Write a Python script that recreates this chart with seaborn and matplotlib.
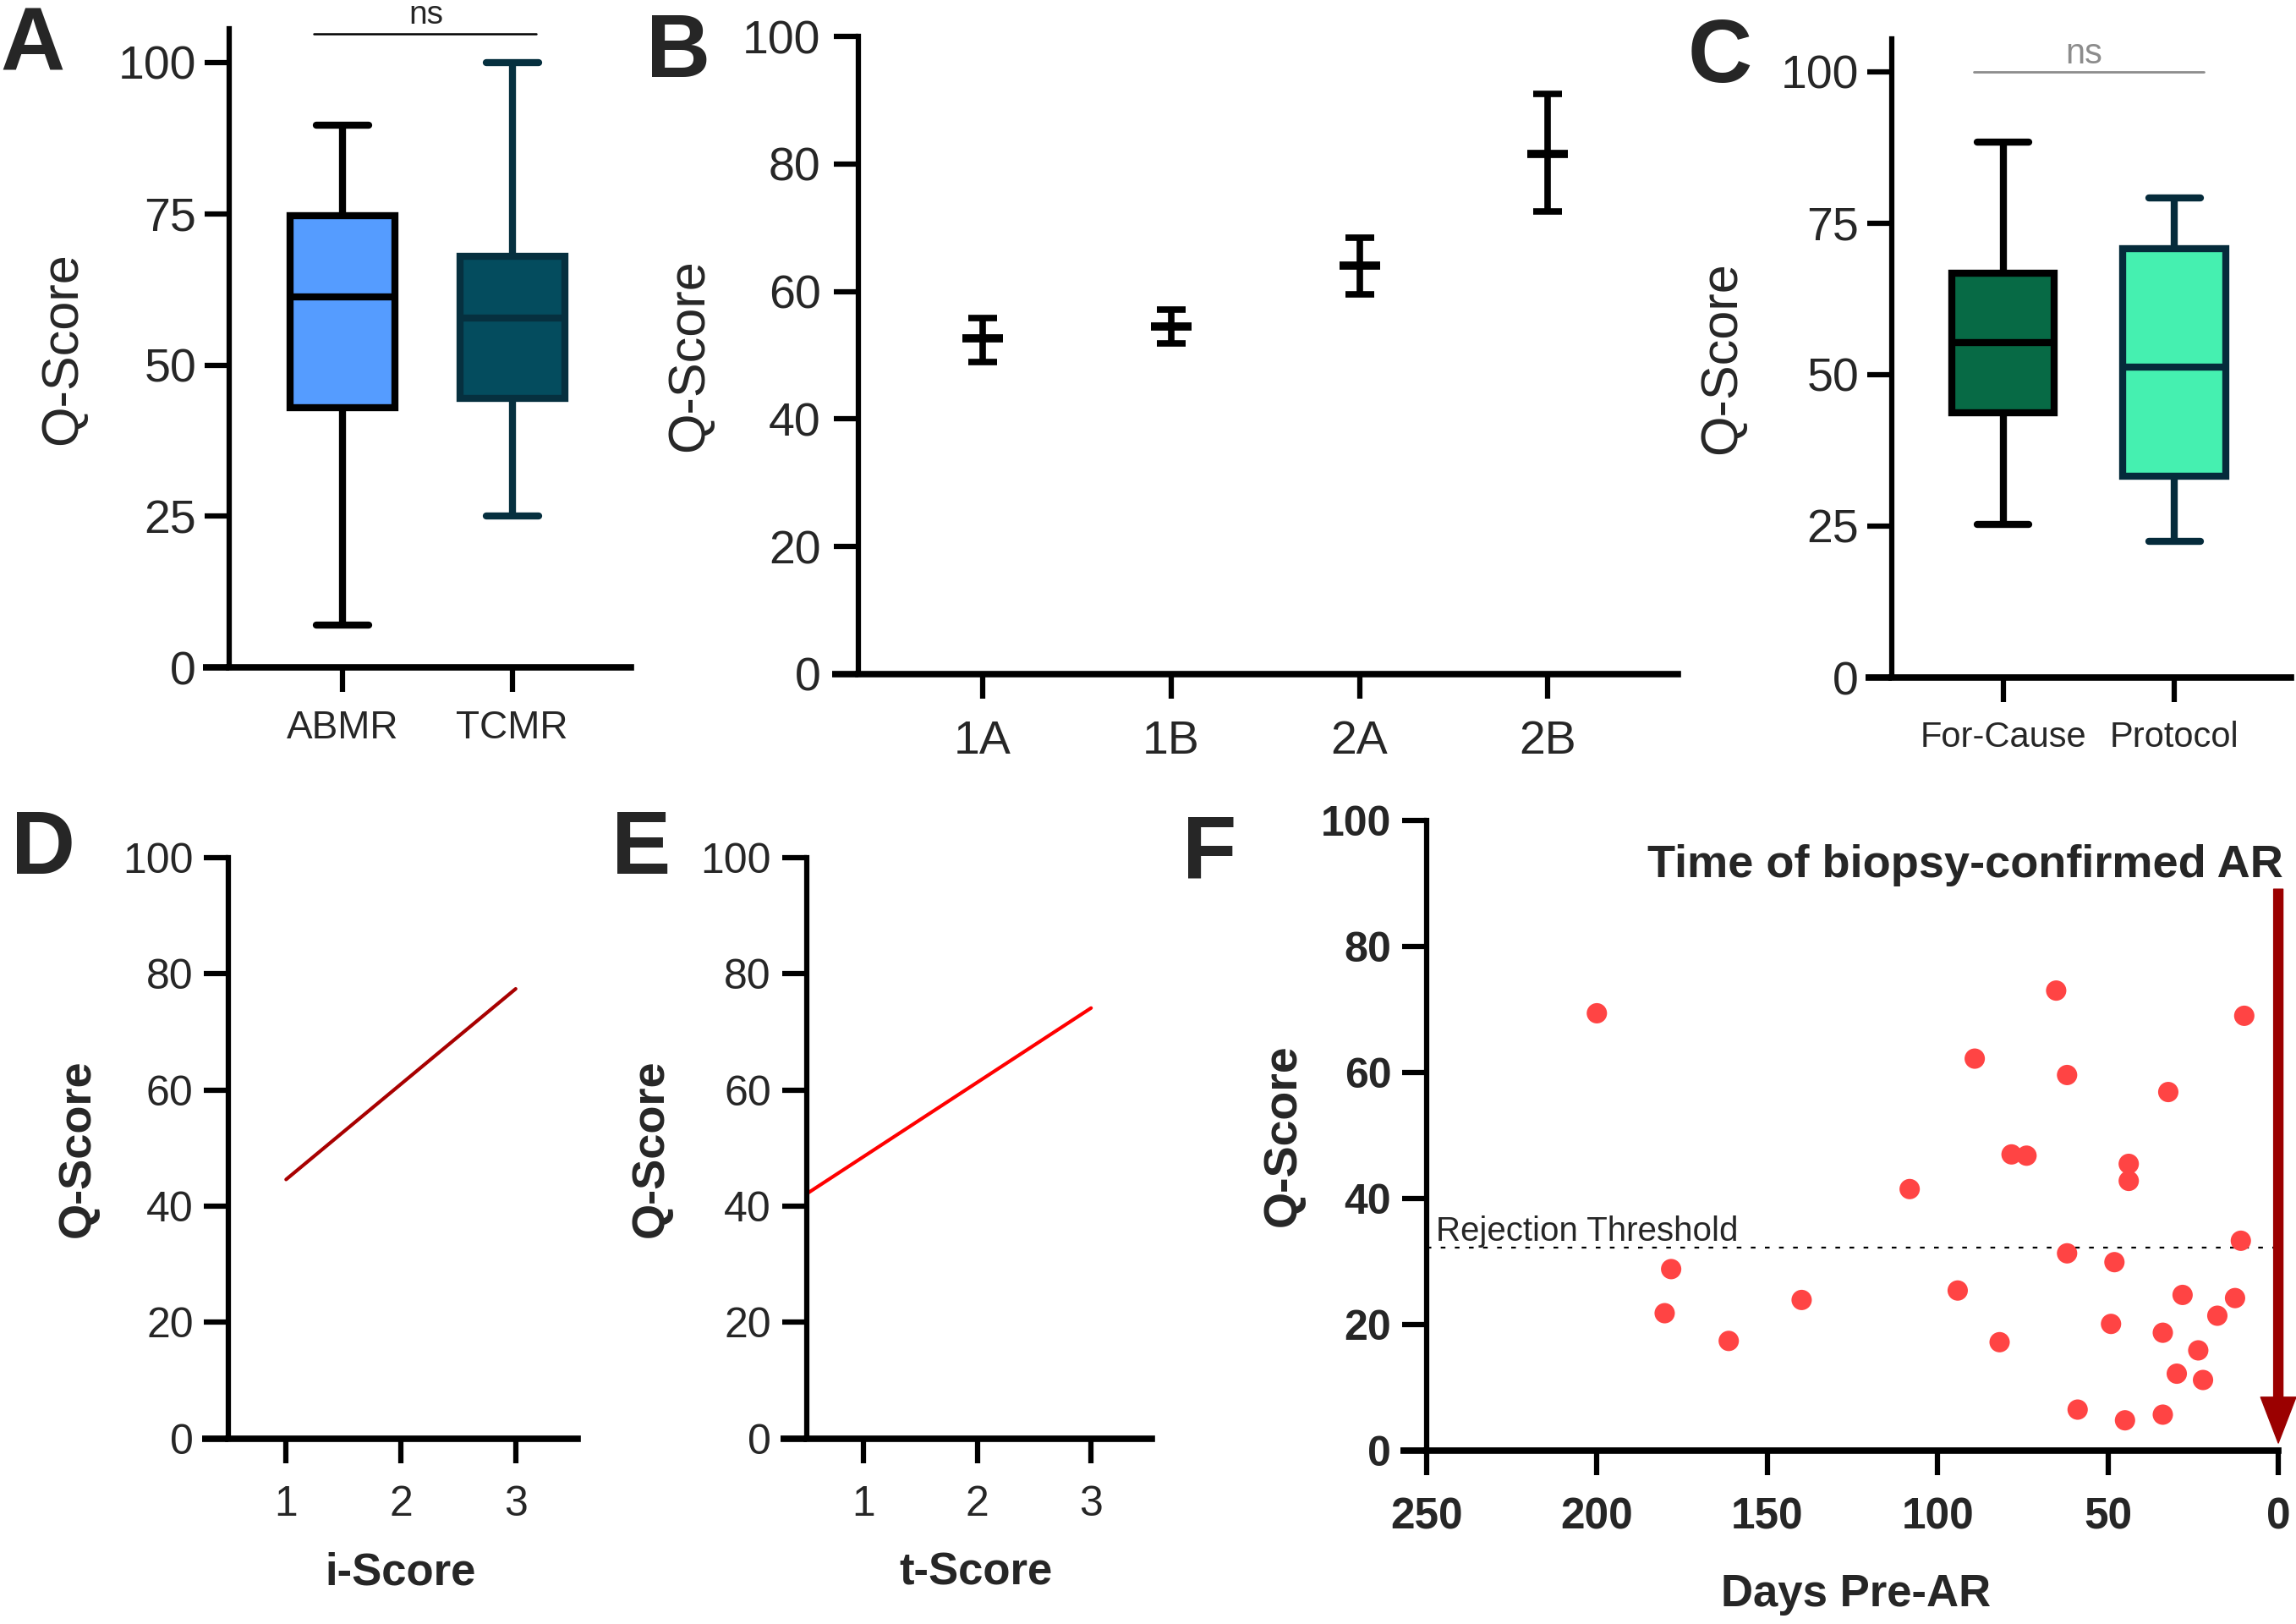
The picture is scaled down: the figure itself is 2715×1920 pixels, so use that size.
import numpy as np
import pandas as pd
import matplotlib
matplotlib.use("Agg")
import matplotlib.pyplot as plt
import seaborn as sns
from matplotlib.lines import Line2D

# ---------------- data ----------------
# Panel A (five-number summaries: min, Q1, median, Q3, max)
a_groups = ["ABMR", "TCMR"]
a_abmr = [7.0, 43.0, 61.2, 74.6, 89.6]
a_tcmr = [25.1, 44.5, 57.7, 67.9, 100.0]
a_fills = ["#559CFF", "#044C5E"]
a_edges = ["#000000", "#06303F"]

# Panel B (mean with error range)
b_grades = ["1A", "1B", "2A", "2B"]
b_mean = [52.6, 54.5, 64.0, 81.6]
b_low = [49.0, 51.8, 59.5, 72.6]
b_high = [55.8, 57.1, 68.5, 91.0]

# Panel C
c_groups = ["For-Cause", "Protocol"]
c_forcause = [25.3, 43.7, 55.3, 66.8, 88.4]
c_protocol = [22.5, 33.3, 51.2, 70.8, 79.2]
c_fills = ["#076A45", "#45F0B0"]
c_edges = ["#000000", "#052B3B"]

# Panel D / E (regression lines)
d_x = [1, 3]
d_y = [44.6, 77.4]
e_x = [0.5, 3]
e_y = [42.1, 74.1]

# Panel F
f_days = [200.0, 178.2, 180.1, 161.3, 139.9, 108.2, 94.1, 89.1, 81.8, 78.3, 73.9,
          65.2, 62.0, 62.0, 58.9, 49.1, 48.1, 45.0, 43.9, 43.9, 33.9, 33.9, 32.3,
          29.8, 28.1, 23.5, 22.1, 17.9, 12.7, 11.0, 10.0]
f_q = [69.4, 28.8, 21.8, 17.4, 23.9, 41.5, 25.4, 62.2, 17.2, 47.0, 46.8,
       73.0, 59.6, 31.3, 6.5, 20.1, 29.9, 4.8, 45.5, 42.8, 5.7, 18.7, 56.9,
       12.2, 24.7, 15.9, 11.2, 21.4, 24.2, 33.3, 69.0]
f_threshold = 32.2
f_xticks = [250, 200, 150, 100, 50, 0]

# ---------------- style ----------------
sns.set_theme(style="ticks")
plt.rcParams["font.family"] = ["Liberation Sans", "DejaVu Sans"]
plt.rcParams["axes.linewidth"] = 4.5

FIG_W, FIG_H = 2715, 1920
fig = plt.figure(figsize=(FIG_W / 100, FIG_H / 100), dpi=100)

YSP, XSP, TW, TL = 4.5, 5.5, 4.5, 21


def style_axes(ax, rect, xpad, ypad, xsize, ysize, xweight="normal", yweight="normal"):
    sns.despine(ax=ax)
    ax.spines["left"].set_linewidth(YSP)
    ax.spines["bottom"].set_linewidth(XSP)
    ax.spines["left"].set_color("black")
    ax.spines["bottom"].set_color("black")
    ax.tick_params(axis="both", direction="out", length=TL, width=TW, color="black")
    ax.tick_params(axis="x", pad=xpad, labelsize=xsize)
    ax.tick_params(axis="y", pad=ypad, labelsize=ysize)
    for t in ax.get_xticklabels():
        t.set_fontweight(xweight)
    for t in ax.get_yticklabels():
        t.set_fontweight(yweight)
    # x axis line extends left under the y ticks
    w_px = rect[2] * FIG_W
    frac = 31 / w_px
    ax.add_line(Line2D([-frac, 0], [0, 0], transform=ax.transAxes, color="black",
                       lw=XSP, clip_on=False, solid_capstyle="butt"))
    ax.grid(False)
    ax.set_facecolor("white")


def boxes(ax, groups, series, fills, edges, width):
    df = pd.DataFrame({
        "group": np.repeat(groups, [len(s) for s in series]),
        "q": np.concatenate(series),
    })
    for g, fc, ec in zip(groups, fills, edges):
        sub = df[df["group"] == g]
        kw = dict(data=sub, x="group", y="q", order=groups, ax=ax, color=fc,
                  linecolor=ec, linewidth=6, width=width, whis=(0, 100),
                  saturation=1, showfliers=False)
        try:
            sns.boxplot(**kw, capwidths=width * 0.5)
        except Exception:
            sns.boxplot(**kw)


# ---------------- Panel A ----------------
rA = [0.0998, 0.5889, 0.1750, 0.3932]
axA = fig.add_axes(rA)
boxes(axA, a_groups, [a_abmr, a_tcmr], a_fills, a_edges, 0.62)
axA.set_xlim(-0.67, 1.70)
axA.set_ylim(0, 105.5)
axA.set_yticks([0, 25, 50, 75, 100])
axA.set_xticks([0, 1])
axA.set_xticklabels(a_groups)
axA.set_xlabel("")
axA.set_ylabel("Q-Score", fontsize=44, va="center")
axA.yaxis.set_label_coords(-0.4126, 0.5)
style_axes(axA, rA, 15, 7, 33, 40)
axA.plot([-0.17, 1.14], [104.7, 104.7], color="black", lw=1.8, clip_on=False)
axA.text(0.49, 106.4, "ns", ha="center", va="baseline", fontsize=28, clip_on=False)

# ---------------- Panel B ----------------
rB = [0.3738, 0.5849, 0.3570, 0.3927]
axB = fig.add_axes(rB)
bx = np.arange(len(b_grades))
bm = np.array(b_mean)
yerr = [bm - np.array(b_low), np.array(b_high) - bm]
axB.errorbar(bx, bm, yerr=yerr, fmt="none", ecolor="black", elinewidth=5.5,
             capsize=12.5, capthick=5.5)
sns.scatterplot(x=bx, y=bm, marker="_", s=35 ** 2, color="black", linewidth=7,
                ax=axB, zorder=3)
axB.set_xlim(-0.66, 3.69)
axB.set_ylim(0, 100)
axB.set_yticks([0, 20, 40, 60, 80, 100])
axB.set_xticks(bx)
axB.set_xticklabels(b_grades)
axB.set_ylabel("Q-Score", fontsize=44, va="center")
axB.yaxis.set_label_coords(-0.2054, 0.5)
style_axes(axB, rB, 18, 11, 40, 40)

# ---------------- Panel C ----------------
rC = [0.8239, 0.5828, 0.1739, 0.3932]
axC = fig.add_axes(rC)
boxes(axC, c_groups, [c_forcause, c_protocol], c_fills, c_edges, 0.60)
axC.set_xlim(-0.65, 1.68)
axC.set_ylim(0, 105.4)
axC.set_yticks([0, 25, 50, 75, 100])
axC.set_xticks([0, 1])
axC.set_xticklabels(c_groups)
axC.set_xlabel("")
axC.set_ylabel("Q-Score", fontsize=44, va="center")
axC.yaxis.set_label_coords(-0.4237, 0.5)
style_axes(axC, rC, 16, 7, 30, 40)
axC.plot([-0.17, 1.17], [99.9, 99.9], color="#8c8c8c", lw=2.0, clip_on=False)
axC.text(0.47, 101.4, "ns", ha="center", va="baseline", fontsize=30,
         color="#8c8c8c", clip_on=False)

# ---------------- Panel D ----------------
rD = [0.0996, 0.1141, 0.1520, 0.3579]
axD = fig.add_axes(rD)
sns.lineplot(x=d_x, y=d_y, color="#A80000", linewidth=3, ax=axD)
axD.set_xlim(0.5, 3.54)
axD.set_ylim(0, 100)
axD.set_xticks([1, 2, 3])
axD.set_yticks([0, 20, 40, 60, 80, 100])
axD.set_ylabel("Q-Score", fontsize=39, fontweight="bold", va="center")
axD.yaxis.set_label_coords(-0.4327, 0.5)
axD.set_xlabel("i-Score", fontsize=38, fontweight="bold", va="center")
axD.xaxis.set_label_coords(0.493, -0.2314)
style_axes(axD, rD, 19, 9, 36, 36)

# ---------------- Panel E ----------------
rE = [0.3512, 0.1141, 0.1503, 0.3579]
axE = fig.add_axes(rE)
sns.lineplot(x=e_x, y=e_y, color="#FF0000", linewidth=3, ax=axE)
axE.set_xlim(0.5, 3.53)
axE.set_ylim(0, 100)
axE.set_xticks([1, 2, 3])
axE.set_yticks([0, 20, 40, 60, 80, 100])
axE.set_ylabel("Q-Score", fontsize=39, fontweight="bold", va="center")
axE.yaxis.set_label_coords(-0.45, 0.5)
axE.set_xlabel("t-Score", fontsize=38, fontweight="bold", va="center")
axE.xaxis.set_label_coords(0.492, -0.2314)
style_axes(axE, rE, 19, 9, 36, 36)

# ---------------- Panel F ----------------
rF = [0.6213, 0.1068, 0.3710, 0.3880]
axF = fig.add_axes(rF)
sns.scatterplot(x=f_days, y=f_q, color="#FF4444", s=300, edgecolor="none",
                ax=axF, zorder=3)
axF.axhline(f_threshold, color="black", lw=1.6, linestyle=(0, (2.5, 5)), zorder=2)
axF.set_xlim(250, 0)
axF.set_ylim(0, 100)
axF.set_xticks(f_xticks)
axF.set_yticks([0, 20, 40, 60, 80, 100])
axF.set_ylabel("Q-Score", fontsize=40, fontweight="bold", va="center")
axF.yaxis.set_label_coords(-0.168, 0.5)
axF.set_xlabel("Days Pre-AR", fontsize=38, fontweight="bold", va="center")
axF.xaxis.set_label_coords(0.504, -0.228)
style_axes(axF, rF, 18, 9, 37, 36, xweight="bold", yweight="bold")
axF.text(247.2, 33.3, "Rejection Threshold", ha="left", va="baseline", fontsize=29)
axF.text(-1.5, 91.0, "Time of biopsy-confirmed AR", ha="right", va="baseline",
         fontsize=39, fontweight="bold", clip_on=False)
axF.annotate("", xy=(0, 1.2), xytext=(0, 89.1), xycoords="data",
             arrowprops=dict(facecolor="#9B0000", edgecolor="#9B0000", width=7.9,
                             headwidth=30, headlength=39, shrink=0),
             annotation_clip=False)

# ---------------- panel letters ----------------
for letter, x, y in [("A", 0.0, 0.9964), ("B", 0.2814, 0.9927), ("C", 0.7352, 0.9896),
                     ("D", 0.0048, 0.502), ("E", 0.2663, 0.502), ("F", 0.5149, 0.499)]:
    fig.text(x, y, letter, fontsize=76, fontweight="bold", ha="left", va="top")

fig.savefig("out.png", dpi=100, facecolor="white")
